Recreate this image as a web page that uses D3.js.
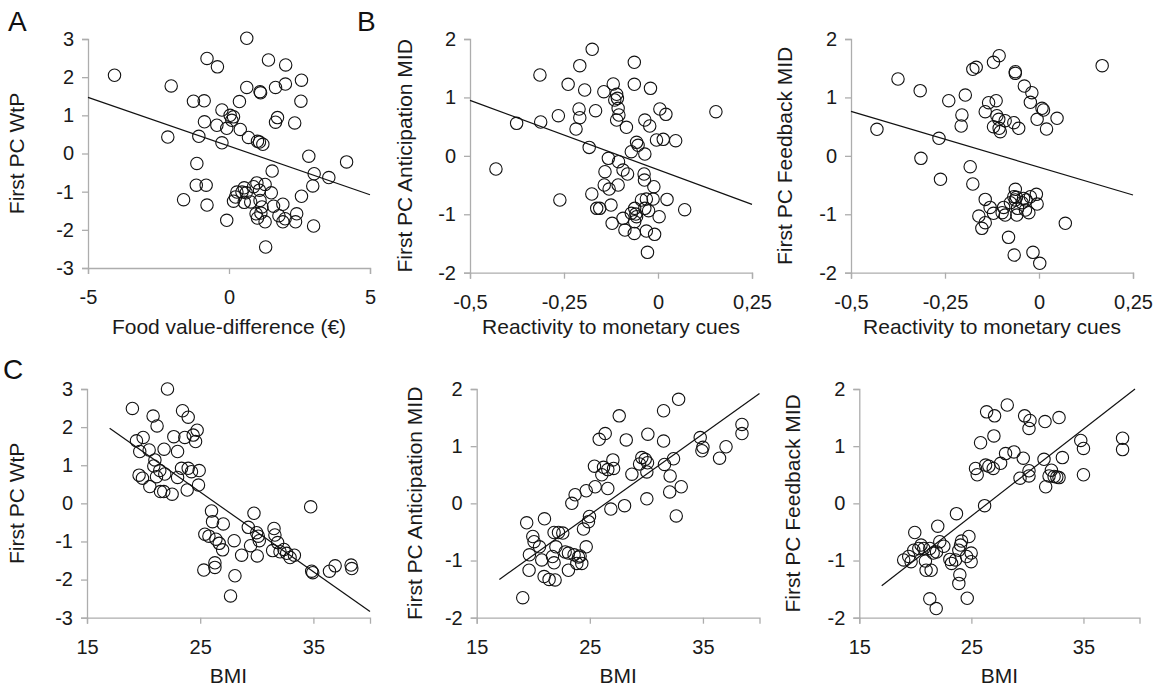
<!DOCTYPE html>
<html>
<head>
<meta charset="utf-8">
<script src="https://cdn.jsdelivr.net/npm/d3@7"></script>
<style>
  body { margin: 0; background: #fff; }
  svg { display: block; font-family: "Liberation Sans", Arial, sans-serif; }
  .domain, .tick line { stroke: #adadad; stroke-width: 1.3; }
  .tick text { fill: #1a1a1a; font-size: 20px; }
</style>
</head>
<body>
<div id="Graph"></div>
<script>
// ---- data ----
// panel A: food value-difference (€) vs first PC WtP
var foodDiffWtP = [
  [-4.06, 2.05], [-2.05, 1.77], [-2.17, 0.43], [-0.78, 2.49], [-0.41, 2.27], [0.63, 3.02],
  [-1.26, 1.37], [-0.88, 1.38], [-0.87, 0.83], [-1.07, 0.45], [-0.25, 1.14], [-0.43, 0.74],
  [-0.25, 0.28], [0.04, 1.0], [0.10, 0.87], [0.16, 0.96], [-0.08, 0.66], [0.40, 0.63],
  [0.37, 1.36], [0.63, 1.73], [0.69, 0.42], [1.01, 0.32], [1.08, 0.30], [1.20, 0.24],
  [1.10, 1.62], [1.12, 1.59], [1.40, 2.45], [1.65, 1.73], [2.01, 2.32], [2.00, 1.82],
  [2.57, 1.92], [2.55, 1.37], [1.72, 0.94], [1.65, 0.82], [2.33, 0.80], [2.83, -0.07],
  [4.17, -0.22], [3.02, -0.53], [3.54, -0.63], [2.97, -0.85], [2.57, -1.12], [3.00, -1.90],
  [2.40, -1.58], [2.36, -1.79], [-1.14, -0.26], [-1.16, -0.83], [-0.81, -0.83], [-1.61, -1.21],
  [-0.78, -1.35], [-0.08, -1.75], [0.16, -1.25], [0.23, -1.14], [0.46, -1.01], [0.54, -0.90],
  [0.61, -1.03], [0.54, -1.28], [0.77, -1.27], [0.99, -0.77], [1.08, -0.96], [0.96, -1.58],
  [1.01, -1.69], [1.10, -1.23], [1.17, -1.40], [1.13, -1.56], [1.28, -0.81], [1.50, -1.03],
  [1.53, -0.46], [1.28, -1.79], [1.30, -2.45], [1.58, -1.38], [1.91, -1.33], [1.77, -1.63],
  [1.91, -1.79], [1.99, -1.71], [0.87, -0.87], [0.28, -1.01]
];
var foodDiffWtPFit = [[-5, 1.47], [5, -1.08]];

// panel B left: reactivity to monetary cues vs first PC anticipation MID
var cuesAnticipation = [
  [-0.431, -0.225], [-0.376, 0.556], [-0.314, 1.384], [-0.312, 0.579], [-0.265, 0.688], [-0.261, -0.756],
  [-0.239, 1.224], [-0.218, 0.459], [-0.210, 0.802], [-0.208, 0.653], [-0.208, 1.544], [-0.195, 1.127],
  [-0.175, 1.823], [-0.166, 0.773], [-0.183, 0.145], [-0.176, -0.653], [-0.163, -0.899], [-0.155, -0.899],
  [-0.144, 1.098], [-0.119, 1.230], [-0.110, 1.053], [-0.108, 0.984], [-0.115, 0.956], [-0.106, 0.813],
  [-0.104, 0.699], [-0.110, 0.613], [-0.084, 0.488], [-0.132, -0.043], [-0.105, -0.100], [-0.141, -0.271],
  [-0.093, -0.243], [-0.081, -0.311], [-0.143, -0.499], [-0.130, -0.568], [-0.106, -0.499], [-0.125, -0.842],
  [-0.122, -1.155], [-0.093, -1.070], [-0.088, -1.270], [-0.071, -0.984], [-0.062, -0.899], [-0.059, -0.996],
  [-0.062, -1.127], [-0.063, -1.327], [-0.057, -1.041], [-0.063, 1.601], [-0.063, 1.224], [-0.057, 0.231],
  [-0.053, 0.180], [-0.071, 0.071], [-0.035, 0.031], [-0.037, -0.311], [-0.036, -0.414], [-0.035, 0.613],
  [-0.020, 1.155], [-0.022, 0.511], [-0.011, -0.528], [-0.013, -0.739], [-0.031, -0.739], [-0.035, -0.899],
  [-0.025, -0.939], [-0.031, -1.287], [-0.009, -1.344], [0.003, -1.041], [-0.028, -1.652], [0.005, 0.802],
  [0.021, 0.710], [-0.004, 0.271], [0.014, 0.282], [0.047, 0.260], [0.024, -0.745], [0.071, -0.922],
  [0.154, 0.756], [-0.044, -0.756]
];
var cuesAnticipationFit = [[-0.5, 0.95], [0.25, -0.83]];

// panel B right: reactivity to monetary cues vs first PC feedback MID
var cuesFeedback = [
  [-0.431, 0.454], [-0.375, 1.315], [-0.316, 1.116], [-0.314, -0.043], [-0.266, 0.300], [-0.262, -0.402],
  [-0.240, 0.944], [-0.207, 0.511], [-0.205, 0.699], [-0.196, 1.041], [-0.183, -0.185], [-0.176, -0.482],
  [-0.176, 1.481], [-0.167, 1.515], [-0.160, -1.030], [-0.152, -1.241], [-0.143, -1.144], [-0.143, -0.745],
  [-0.130, -0.882], [-0.121, -0.984], [-0.143, 0.756], [-0.134, 0.910], [-0.114, 0.944], [-0.121, 1.601],
  [-0.106, 1.715], [-0.112, 0.688], [-0.107, 0.625], [-0.121, 0.499], [-0.106, 0.471], [-0.103, 0.414],
  [-0.090, 0.602], [-0.067, 0.568], [-0.054, 0.471], [-0.063, 1.441], [-0.063, 1.412], [-0.039, 1.195],
  [-0.019, 1.081], [-0.023, 0.916], [0.008, 0.813], [0.012, 0.785], [-0.005, 0.625], [0.020, 0.459],
  [0.048, 0.642], [0.168, 1.544], [-0.094, -0.882], [-0.090, -1.013], [-0.098, -0.973], [-0.076, -0.802],
  [-0.063, -0.573], [-0.060, -0.710], [-0.063, -0.756], [-0.059, -1.013], [-0.057, -0.899], [-0.045, -0.802],
  [-0.036, -0.927], [-0.027, -0.973], [-0.034, -0.756], [-0.023, -0.699], [-0.007, -0.659], [-0.005, -0.825],
  [-0.081, -1.395], [-0.066, -1.698], [-0.016, -1.652], [0.002, -1.840], [0.070, -1.155], [-0.041, -0.728],
  [-0.067, -0.699]
];
var cuesFeedbackFit = [[-0.5, 0.76], [0.25, -0.67]];

// panel C left: BMI vs first PC WtP
var bmiWtP = [
  [19.01, 2.49], [22.11, 3.00], [20.84, 2.29], [21.19, 2.03], [19.37, 1.64], [19.96, 1.73],
  [19.66, 1.36], [20.49, 1.40], [21.81, 1.42], [21.00, 1.14], [20.90, 0.98], [19.60, 0.74],
  [19.90, 0.66], [20.55, 0.44], [21.14, 0.70], [21.87, 0.77], [21.49, 0.31], [21.78, 0.31],
  [22.52, 0.24], [22.67, 1.75], [23.00, 1.36], [23.00, 0.68], [23.44, 2.43], [23.94, 2.26],
  [23.64, 1.73], [24.38, 1.79], [24.73, 1.92], [24.59, 1.62], [23.35, 0.92], [23.94, 0.92],
  [24.23, 0.83], [23.85, 0.35], [24.91, 0.86], [24.85, 0.48], [26.00, -0.20], [26.09, -0.48],
  [27.04, -0.54], [25.41, -0.81], [25.77, -0.86], [25.32, -1.75], [26.30, -1.56], [26.30, -1.68],
  [26.68, -1.05], [26.98, -1.22], [26.39, -0.94], [28.00, -0.98], [28.07, -1.90], [27.68, -2.43],
  [28.66, -1.36], [29.25, -0.63], [29.45, -1.11], [29.75, -0.26], [29.99, -0.77], [30.13, -0.86],
  [30.22, -0.98], [30.04, -1.38], [31.52, -0.66], [31.60, -0.83], [31.84, -1.03], [31.40, -1.24],
  [32.05, -1.27], [32.40, -1.21], [32.64, -1.31], [32.94, -1.42], [33.32, -1.36], [34.76, -0.09],
  [34.85, -1.78], [34.94, -1.82], [36.42, -1.78], [36.92, -1.64], [38.33, -1.62], [38.39, -1.71],
  [21.43, 0.86]
];
var bmiWtPFit = [[17, 1.97], [40, -2.84]];

// panel C middle: BMI vs first PC anticipation MID
var bmiAnticipation = [
  [19.07, -1.65], [19.42, -0.34], [19.96, -0.58], [20.07, -0.67], [19.66, -0.90], [19.63, -1.17],
  [20.55, -0.76], [20.99, -0.27], [20.75, -0.99], [20.96, -1.28], [21.40, -1.33], [21.93, -1.34],
  [21.84, -1.04], [21.70, -0.93], [21.84, -0.51], [22.23, -0.51], [22.61, -0.52], [22.00, -0.76],
  [22.82, -0.85], [23.11, -1.17], [23.11, -0.87], [23.61, -0.90], [24.00, -0.94], [23.85, -1.05],
  [24.29, -1.05], [24.14, -0.92], [24.44, -0.45], [24.68, -0.76], [24.88, -0.32], [24.97, -0.23],
  [23.41, 0.00], [23.70, 0.15], [24.68, 0.22], [25.47, 0.29], [25.41, 0.65], [26.06, 0.50],
  [26.21, 0.63], [26.59, 0.59], [27.04, 0.76], [27.10, 0.61], [26.59, 0.26], [26.86, -0.10],
  [28.07, -0.04], [25.83, 1.12], [26.36, 1.22], [27.60, 1.53], [28.22, 1.11], [28.72, 0.51],
  [29.40, 0.69], [29.60, 0.80], [29.90, 0.77], [30.10, 0.71], [30.04, 0.55], [30.13, 1.21],
  [30.04, 0.08], [31.52, 1.62], [31.52, 1.09], [31.60, 0.68], [32.10, 0.48], [32.06, 0.20],
  [32.40, 0.78], [32.85, 1.82], [33.08, 0.29], [32.64, -0.22], [34.76, 1.15], [35.00, 0.98],
  [34.91, 0.92], [36.47, 0.79], [37.04, 0.99], [38.45, 1.38], [38.45, 1.22]
];
var bmiAnticipationFit = [[17, -1.33], [40, 1.92]];

// panel C right: BMI vs first PC feedback MID
var bmiFeedback = [
  [18.96, -0.99], [19.41, -0.93], [19.62, -1.02], [19.95, -0.51], [19.86, -0.82], [20.31, -0.79],
  [20.51, -0.73], [20.75, -0.79], [20.90, -1.01], [20.96, -1.17], [21.41, -1.17], [21.29, -0.79],
  [21.59, -0.87], [22.00, -0.40], [22.18, -0.67], [22.54, -0.75], [21.89, -0.85], [21.29, -1.67],
  [21.86, -1.84], [23.08, -0.98], [23.23, -1.05], [23.67, -0.18], [23.88, -0.82], [24.03, -0.73],
  [24.12, -0.66], [23.97, -1.25], [23.88, -1.40], [24.57, -0.93], [24.78, -0.58], [24.98, -0.87],
  [24.98, -1.02], [24.63, -1.66], [23.58, -0.99], [26.18, -0.04], [25.37, 0.61], [25.52, 0.50],
  [25.82, 1.06], [26.36, 1.60], [27.07, 1.53], [27.01, 1.18], [26.27, 0.67], [26.56, 0.65],
  [26.95, 0.61], [27.61, 0.70], [28.05, 0.87], [28.20, 1.72], [28.80, 0.90], [29.34, 0.44],
  [29.63, 0.79], [29.75, 1.53], [30.23, 1.45], [30.14, 1.31], [30.14, 0.48], [30.14, 0.57],
  [31.63, 0.29], [31.57, 1.43], [31.48, 0.77], [31.93, 0.48], [32.14, 0.58], [32.38, 0.47],
  [32.62, 0.46], [32.82, 0.45], [32.82, 1.50], [33.12, 0.80], [34.76, 1.10], [35.00, 0.96],
  [35.00, 0.50], [38.49, 1.14], [38.49, 0.94]
];
var bmiFeedbackFit = [[17, -1.44], [39.6, 2.0]];

// ticks
var wtpTicks = [-3, -2, -1, 0, 1, 2, 3];
var midTicks = [-2, -1, 0, 1, 2];
var foodTicks = [-5, 0, 5];
var cueTicks = [-0.5, -0.25, 0, 0.25];
var cueTickLabels = ["-0,5", "-0,25", "0", "0,25"];
var bmiTicks = [15, 25, 35];

// ---- layout ----
var width = 1157, height = 689;
var svg = d3.select("#Graph").append("svg")
    .attr("width", width)
    .attr("height", height);

function plain(d) { return String(d).replace("\u2212", "-"); }

var panels = [
  {data: foodDiffWtP, fit: foodDiffWtPFit, xd: [-5, 5], yd: [-3, 3], xt: foodTicks, yt: wtpTicks,
   xr: [88, 370], yr: [268, 39], xTitle: "Food value-difference (\u20ac)", yTitle: "First PC WtP",
   xTitleY: 334, yTitleX: 17},
  {data: cuesAnticipation, fit: cuesAnticipationFit, xd: [-0.5, 0.25], yd: [-2, 2], xt: cueTicks, xl: cueTickLabels, yt: midTicks,
   xr: [470, 752], yr: [272.7, 39], xTitle: "Reactivity to monetary cues", yTitle: "First PC Anticipation MID",
   xTitleY: 334, yTitleX: 405},
  {data: cuesFeedback, fit: cuesFeedbackFit, xd: [-0.5, 0.25], yd: [-2, 2], xt: cueTicks, xl: cueTickLabels, yt: midTicks,
   xr: [851, 1133], yr: [272.7, 39], xTitle: "Reactivity to monetary cues", yTitle: "First PC Feedback MID",
   xTitleY: 334, yTitleX: 785},
  {data: bmiWtP, fit: bmiWtPFit, xd: [15, 40], yd: [-3, 3], xt: bmiTicks, yt: wtpTicks,
   xr: [87, 370], yr: [617.7, 389], xTitle: "BMI", yTitle: "First PC WtP",
   xTitleY: 683, yTitleX: 17},
  {data: bmiAnticipation, fit: bmiAnticipationFit, xd: [15, 40], yd: [-2, 2], xt: bmiTicks, yt: midTicks,
   xr: [476.7, 759.5], yr: [617.7, 389], xTitle: "BMI", yTitle: "First PC Anticipation MID",
   xTitleY: 683, yTitleX: 415},
  {data: bmiFeedback, fit: bmiFeedbackFit, xd: [15, 40], yd: [-2, 2], xt: bmiTicks, yt: midTicks,
   xr: [859.3, 1139.5], yr: [617.7, 389], xTitle: "BMI", yTitle: "First PC Feedback MID",
   xTitleY: 683, yTitleX: 793}
];

panels.forEach(function (p) {
    var x = d3.scaleLinear().domain(p.xd).range(p.xr);
    var y = d3.scaleLinear().domain(p.yd).range(p.yr);
    var g = svg.append("g");

    //x axis
    g.append("g")
        .attr("transform", "translate(0," + p.yr[0] + ")")
        .call(d3.axisBottom(x).tickValues(p.xt).tickSizeOuter(0).tickSize(6).tickPadding(16)
            .tickFormat(function (d, i) { return p.xl ? p.xl[i] : plain(d); }));

    //y axis
    g.append("g")
        .attr("transform", "translate(" + p.xr[0] + ",0)")
        .call(d3.axisLeft(y).tickValues(p.yt).tickSizeOuter(0).tickSize(6).tickPadding(8)
            .tickFormat(plain));

    //points
    g.selectAll("circle")
        .data(p.data)
        .enter().append("circle")
        .attr("cx", function (d) { return x(d[0]); })
        .attr("cy", function (d) { return y(d[1]); })
        .attr("r", 6.2)
        .style("fill", "none")
        .style("stroke", "#111")
        .style("stroke-width", 1.1);

    //regression line
    g.append("path")
        .datum(p.fit)
        .attr("d", d3.line().x(function (d) { return x(d[0]); }).y(function (d) { return y(d[1]); }))
        .style("fill", "none")
        .style("stroke", "#111")
        .style("stroke-width", 1.2);

    //axis titles
    g.append("text")
        .attr("x", (p.xr[0] + p.xr[1]) / 2)
        .attr("y", p.xTitleY)
        .style("text-anchor", "middle")
        .style("font-size", "21px")
        .style("fill", "#1a1a1a")
        .text(p.xTitle);

    g.append("text")
        .attr("transform", "translate(" + p.yTitleX + "," + (p.yr[0] + p.yr[1]) / 2 + ") rotate(-90)")
        .attr("dy", "0.35em")
        .style("text-anchor", "middle")
        .style("font-size", "21px")
        .style("fill", "#1a1a1a")
        .text(p.yTitle);
});

//panel letters
var letters = [["A", 8, 31], ["B", 357, 31], ["C", 3, 379]];
svg.selectAll(".letter")
    .data(letters)
    .enter().append("text")
    .attr("class", "letter")
    .attr("x", function (d) { return d[1]; })
    .attr("y", function (d) { return d[2]; })
    .style("font-size", "28px")
    .style("fill", "#111")
    .text(function (d) { return d[0]; });
</script>
</body>
</html>
